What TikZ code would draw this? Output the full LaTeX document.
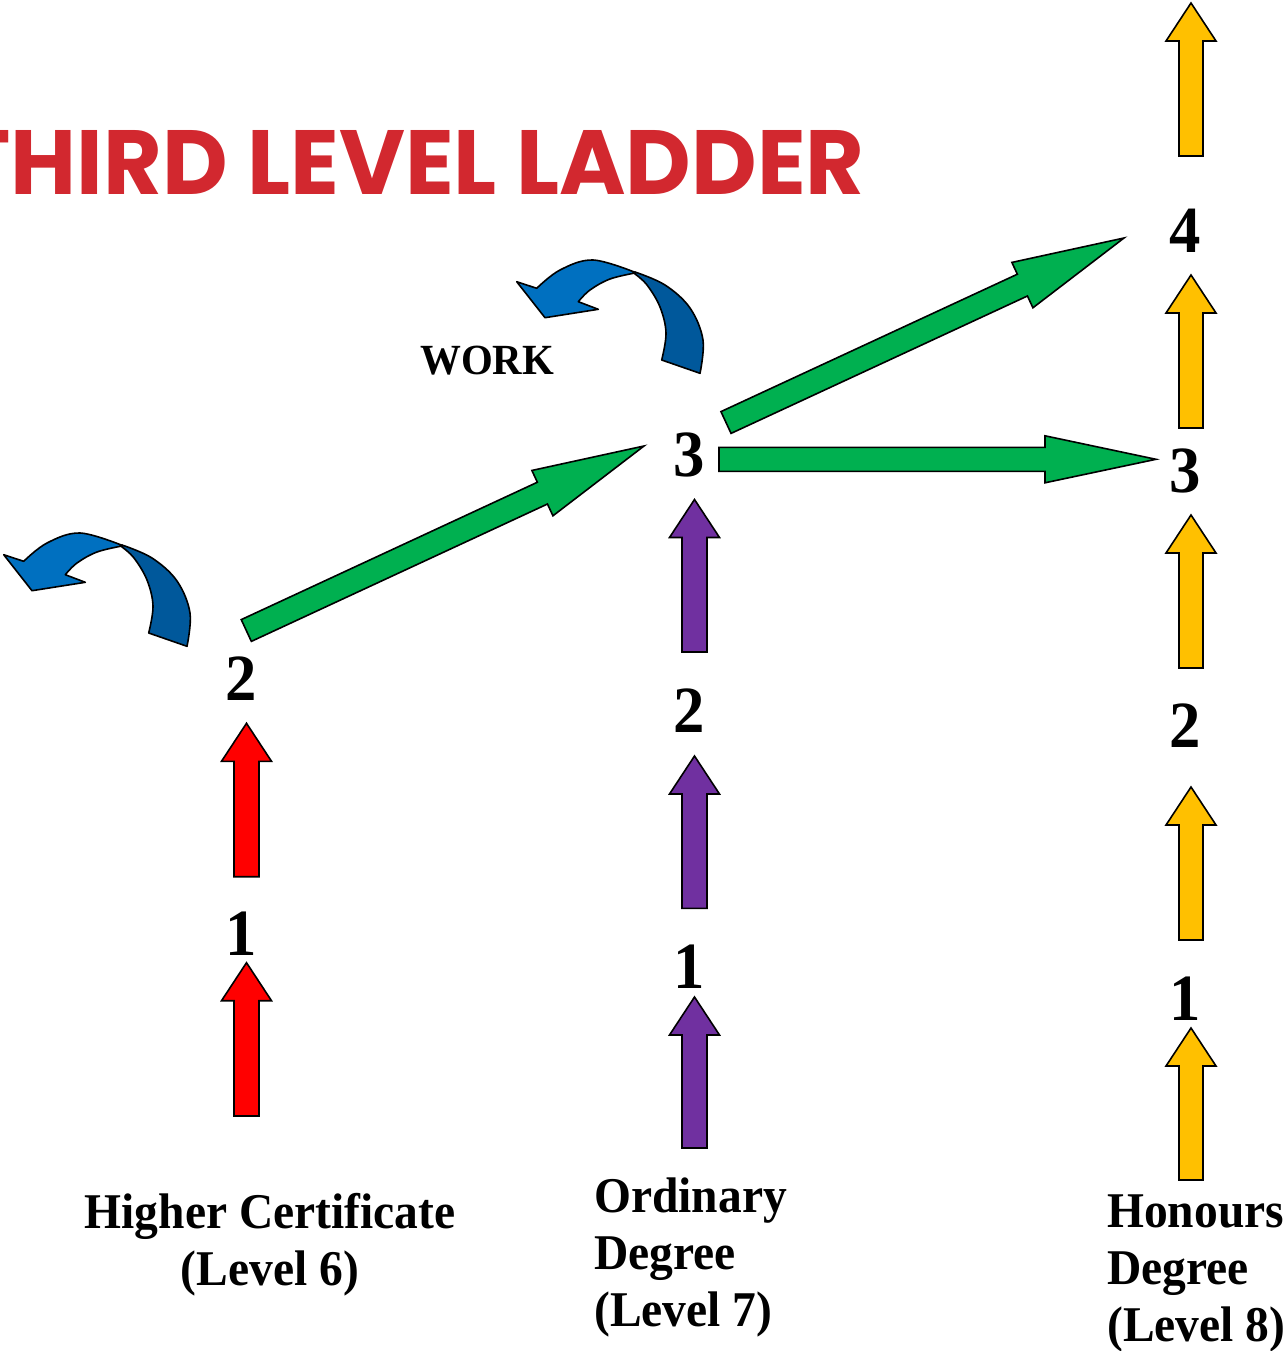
\documentclass[tikz,border=0pt]{standalone}
\usepackage{fontspec}
\usetikzlibrary{calc}
\setmainfont{Liberation Serif}[FakeStretch=0.95]
\newfontfamily\titlefont{Poppins}
\definecolor{titlered}{HTML}{D2282F}
\definecolor{grn}{HTML}{00B050}
\definecolor{purp}{HTML}{7030A0}
\definecolor{yel}{HTML}{FFC000}
\definecolor{lblue}{HTML}{0070C0}
\definecolor{dblue}{HTML}{00589B}
\tikzset{
  blk/.style={draw=black, line width=1.6pt, line join=miter},
  redarr/.style={blk, fill=red},
  purparr/.style={blk, fill=purp},
  yelarr/.style={blk, fill=yel},
  grnarr/.style={blk, fill=grn},
  curlline/.style={draw=black, line width=1.6pt, line join=round},
  digit/.style={anchor=base, inner sep=0pt, font=\fontsize{66}{66}\selectfont\bfseries},
  lbl/.style={inner sep=0pt, font=\fontsize{50}{57}\selectfont\bfseries},
}
% #1 style, #2 tail centre, #3 tip, #4 shaft half width, #5 head half width, #6 head length
\newcommand\blockarrow[6]{%
  \coordinate (ba-b) at ($(#3)!#6!(#2)$);
  \draw[#1] ($(#2)!#4!90:(#3)$) -- ($(ba-b)!#4!90:(#3)$) -- ($(ba-b)!#5!90:(#3)$)
    -- (#3) -- ($(ba-b)!#5!-90:(#3)$) -- ($(ba-b)!#4!-90:(#3)$) -- ($(#2)!#4!-90:(#3)$) -- cycle;}
\newcommand\curlarrow{%
  \draw[curlline, fill=dblue] (635,272) -- plot[smooth, tension=0.6] coordinates {(635,272) (665,285) (690,308) (703,340) (700,373.3)}
    -- (661.7,360) -- plot[smooth, tension=0.6] coordinates {(661.7,360) (666,333) (660,307) (647,285) (635,274)} -- cycle;
  \draw[curlline, fill=lblue] (516.7,281.7) -- plot[smooth, tension=0.6] coordinates {(536.7,288.3) (560,270) (593,260) (635,272.3)}
    -- plot[smooth, tension=0.6] coordinates {(635,273) (610,279) (590,290) (578.3,301.7)}
    -- (598.3,309.3) -- (545,317.7) -- cycle;}
\begin{document}
\begin{tikzpicture}[x=1pt,y=-1pt]
\useasboundingbox (0,0) rectangle (1282,1351);
\clip (0,0) rectangle (1282,1351);

% title
\node[anchor=south east, inner sep=0pt] (title) at (865,195)
  {\color{titlered}\resizebox{907pt}{64pt}{\titlefont\bfseries THIRD LEVEL LADDER}};

% step numbers
\node[digit] (L2) at (241.5,700) {2};
\node[digit] (L1) at (241,955) {1};
\node[digit] (M3) at (689.5,476.5) {3};
\node[digit] (M2) at (689.5,732) {2};
\node[digit] (M1) at (689,988) {1};
\node[digit] (R4) at (1185.5,252) {4};
\node[digit] (R3) at (1185.5,492) {3};
\node[digit] (R2) at (1185.5,747) {2};
\node[digit] (R1) at (1185.5,1020) {1};

% work label
\node[anchor=base west, inner sep=0pt, font=\fontsize{43}{43}\selectfont\bfseries] (work) at (420,374) {WORK};

% programme labels (base anchor = baseline of last line)
\node[lbl, anchor=base, align=center] (hc) at (270,1285) {Higher Certificate\\(Level 6)};
\node[lbl, anchor=base west, align=left] (od) at (594,1326) {Ordinary\\Degree\\(Level 7)};
\node[lbl, anchor=base west, align=left] (hd) at (1107,1341) {Honours\\Degree\\(Level 8)};

% red arrows
\coordinate (ra1) at (246.5,1116);   \coordinate (rb1) at (246.5,962.7);
\coordinate (ra2) at (246.5,876.7);  \coordinate (rb2) at (246.5,723.3);
\blockarrow{redarr}{ra1}{rb1}{12.5pt}{25pt}{38pt}
\blockarrow{redarr}{ra2}{rb2}{12.5pt}{25pt}{38pt}

% purple arrows
\coordinate (pa1) at (694.5,1148);   \coordinate (pb1) at (694.5,997);
\coordinate (pa2) at (694.5,908.4);  \coordinate (pb2) at (694.5,756);
\coordinate (pa3) at (694.5,652);    \coordinate (pb3) at (694.5,499.5);
\blockarrow{purparr}{pa1}{pb1}{12.5pt}{25pt}{38pt}
\blockarrow{purparr}{pa2}{pb2}{12.5pt}{25pt}{38pt}
\blockarrow{purparr}{pa3}{pb3}{12.5pt}{25pt}{38pt}

% yellow arrows
\coordinate (ya1) at (1191,1180);  \coordinate (yb1) at (1191,1028);
\coordinate (ya2) at (1191,940);   \coordinate (yb2) at (1191,787);
\coordinate (ya3) at (1191,668);   \coordinate (yb3) at (1191,515);
\coordinate (ya4) at (1191,428);   \coordinate (yb4) at (1191,275);
\coordinate (ya5) at (1191,156);   \coordinate (yb5) at (1191,3);
\blockarrow{yelarr}{ya1}{yb1}{12pt}{25pt}{38pt}
\blockarrow{yelarr}{ya2}{yb2}{12pt}{25pt}{38pt}
\blockarrow{yelarr}{ya3}{yb3}{12pt}{25pt}{38pt}
\blockarrow{yelarr}{ya4}{yb4}{12pt}{25pt}{38pt}
\blockarrow{yelarr}{ya5}{yb5}{12pt}{25pt}{38pt}

% green arrows
\coordinate (ga1) at (246.3,630.5);  \coordinate (gb1) at (644,446);
\coordinate (ga2) at (726,422.5);    \coordinate (gb2) at (1124,238);
\coordinate (ga3) at (719,459.3);    \coordinate (gb3) at (1156,459.3);
\blockarrow{grnarr}{ga1}{gb1}{12pt}{25pt}{112pt}
\blockarrow{grnarr}{ga2}{gb2}{12pt}{25pt}{112pt}
\blockarrow{grnarr}{ga3}{gb3}{12pt}{23.5pt}{111pt}

% curved blue arrows
\begin{scope}
  \curlarrow
\end{scope}
\begin{scope}[shift={(-513,273)}]
  \curlarrow
\end{scope}
\end{tikzpicture}
\end{document}
